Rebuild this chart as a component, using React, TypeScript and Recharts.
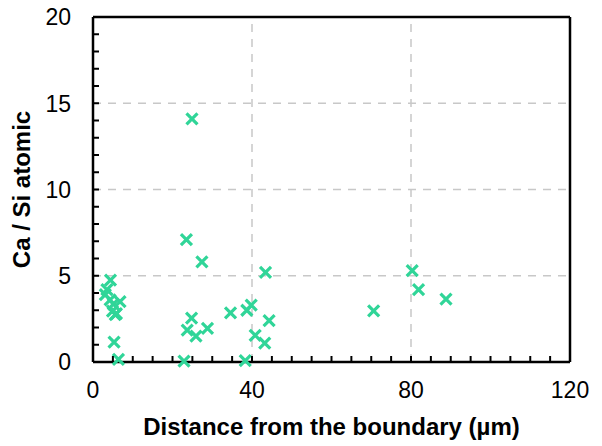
import React from "react";
import {
  ScatterChart,
  Scatter,
  XAxis,
  YAxis,
  ReferenceLine,
} from "recharts";

// distance from boundary (µm) and Ca/Si atomic ratio
const distance = [
  4.4, 3.5, 3.1, 4.3, 5.1, 6.8, 4.9, 5.6, 5.9, 5.3, 6.4,
  22.9, 23.5, 23.7, 24.9, 24.8, 25.9, 27.4, 28.8, 34.6, 38.3,
  38.7, 39.8, 40.8, 43.2, 43.4, 44.3, 70.6, 80.3, 81.9, 88.8,
];
const caSi = [
  4.75, 4.2, 3.9, 3.6, 3.35, 3.5, 2.95, 2.75, 2.8, 1.15, 0.15,
  0.05, 7.1, 1.85, 14.1, 2.55, 1.5, 5.8, 1.95, 2.85, 0.08,
  3.0, 3.3, 1.55, 1.1, 5.2, 2.4, 2.97, 5.3, 4.2, 3.65,
];

const xTicks = Array.from({ length: 25 }, (_, i) => i * 5);
const yTicks = Array.from({ length: 21 }, (_, i) => i);
const xLabels = [0, 40, 80, 120];
const yLabels = [0, 5, 10, 15, 20];
const xGrid = [40, 80];
const yGrid = [5, 10, 15];

const data = distance.map((d, i) => ({ x: d, y: caSi[i] }));

const FONT = "'Liberation Sans', Arial, sans-serif";
const GREEN = "#30D598";
const X_MARGIN = 20;
const Y_MARGIN = 22;
const TICK_LEN = 6;

const Cross = (props: any) => {
  const { cx, cy } = props;
  const r = 5.5;
  return (
    <path
      d={`M${cx - r},${cy - r}L${cx + r},${cy + r}M${cx - r},${cy + r}L${cx + r},${cy - r}`}
      stroke={GREEN}
      strokeWidth={3.2}
      fill="none"
    />
  );
};

// ticks point inward, so draw the tick mark and the label together
const XTick = (props: any) => {
  const { x, y, payload } = props;
  const base = y - X_MARGIN;
  const major = xLabels.includes(payload.value);
  return (
    <g>
      <path d={`M${x},${base}V${base - TICK_LEN}`} stroke="#000" strokeWidth={2} fill="none" />
      {major && (
        <text x={x} y={y} dy="0.71em" textAnchor="middle" fill="#000" fontSize={23} fontFamily={FONT}>
          {payload.value}
        </text>
      )}
    </g>
  );
};

const YTick = (props: any) => {
  const { x, y, payload } = props;
  const base = x + Y_MARGIN;
  const major = yLabels.includes(payload.value);
  return (
    <g>
      <path d={`M${base},${y}H${base + TICK_LEN}`} stroke="#000" strokeWidth={2} fill="none" />
      {major && (
        <text x={x} y={y} dy="0.36em" textAnchor="end" fill="#000" fontSize={23} fontFamily={FONT}>
          {payload.value}
        </text>
      )}
    </g>
  );
};

export default function App() {
  return (
    <ScatterChart
      width={594}
      height={438}
      margin={{ top: 9, right: 32, left: 0, bottom: 0 }}
    >
      {yGrid.map((v) => (
        <ReferenceLine key={"gy" + v} y={v} stroke="#c8c8c8" strokeWidth={1.5} strokeDasharray="8 7" />
      ))}
      {xGrid.map((v) => (
        <ReferenceLine key={"gx" + v} x={v} stroke="#c8c8c8" strokeWidth={1.5} strokeDasharray="8 7" />
      ))}
      <ReferenceLine y={20} stroke="#000" strokeWidth={2.5} />
      <ReferenceLine x={120} stroke="#000" strokeWidth={2.5} />
      <XAxis
        type="number"
        dataKey="x"
        domain={[0, 120]}
        ticks={xTicks}
        interval={0}
        height={84}
        axisLine={{ stroke: "#000", strokeWidth: 2.5 }}
        tickLine={false}
        tickSize={0}
        tickMargin={X_MARGIN}
        tick={<XTick />}
        label={{
          value: "Distance from the boundary (µm)",
          position: "insideBottom",
          offset: 11,
          style: { fill: "#000", fontSize: 24, fontWeight: "bold", fontFamily: FONT },
        }}
      />
      <YAxis
        type="number"
        dataKey="y"
        domain={[0, 20]}
        ticks={yTicks}
        interval={0}
        width={85}
        axisLine={{ stroke: "#000", strokeWidth: 2.5 }}
        tickLine={false}
        tickSize={0}
        tickMargin={Y_MARGIN}
        tick={<YTick />}
        label={{
          value: "Ca / Si atomic",
          angle: -90,
          position: "insideLeft",
          offset: 13,
          style: { fill: "#000", fontSize: 24, fontWeight: "bold", fontFamily: FONT, textAnchor: "middle" },
        }}
      />
      <Scatter data={data} shape={Cross} isAnimationActive={false} />
    </ScatterChart>
  );
}
